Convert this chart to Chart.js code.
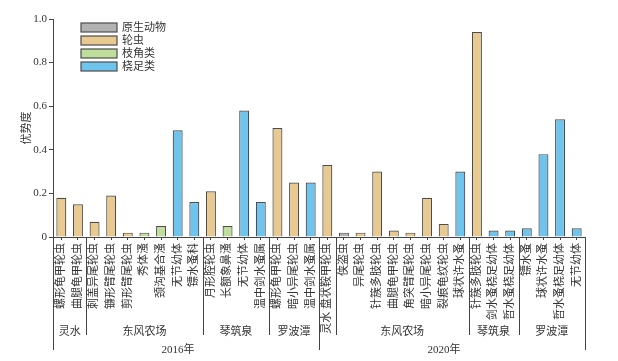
<!DOCTYPE html>
<html>
<head>
<meta charset="utf-8">
<script src="https://cdn.jsdelivr.net/npm/chart.js@4.4.0/dist/chart.umd.min.js"></script>
<style>
  html, body { margin: 0; padding: 0; background: #fff; }
</style>
</head>
<body>
<canvas id="myChart" width="618" height="361"></canvas>
<script>
// species names, one bar each (2016 first, then 2020)
const speciesLabels = [
  "螺形龟甲轮虫", "曲腿龟甲轮虫",
  "刺盖异尾轮虫", "镰形臂尾轮虫", "剪形臂尾轮虫", "秀体溞", "颈沟基合溞", "无节幼体", "镖水蚤科",
  "月形腔轮虫", "长额象鼻溞", "无节幼体", "温中剑水蚤属",
  "螺形龟甲轮虫", "暗小异尾轮虫", "温中剑水蚤属",
  "灵水 盘状鞍甲轮虫",
  "侠盗虫", "异尾轮虫", "针簇多肢轮虫", "曲腿龟甲轮虫", "角突臂尾轮虫", "暗小异尾轮虫", "裂痕龟纹轮虫", "球状许水蚤",
  "针簇多肢轮虫", "剑水蚤桡足幼体", "哲水蚤桡足幼体",
  "镖水蚤", "球状许水蚤", "哲水蚤桡足幼体", "无节幼体",
];

const dominance = [
  0.18, 0.15,
  0.07, 0.19, 0.02, 0.02, 0.05, 0.49, 0.16,
  0.21, 0.05, 0.58, 0.16,
  0.50, 0.25, 0.25,
  0.33,
  0.02, 0.02, 0.30, 0.03, 0.02, 0.18, 0.06, 0.30,
  0.94, 0.03, 0.03,
  0.04, 0.38, 0.54, 0.04,
];

// 0 原生动物, 1 轮虫, 2 枝角类, 3 桡足类
const taxonOfBar = [
  1, 1,
  1, 1, 1, 2, 2, 3, 3,
  1, 2, 3, 3,
  1, 1, 3,
  1,
  0, 1, 1, 1, 1, 1, 1, 3,
  1, 3, 3,
  3, 3, 3, 3,
];

const taxonNames = ["原生动物", "轮虫", "枝角类", "桡足类"];
const taxonColors = ["#b3b3b3", "#e8c98f", "#bfdd9b", "#6ec4ed"];

// site groups: first and last bar index, label (empty = name is in the tick label)
const siteNames = ["灵水", "东风农场", "琴筑泉", "罗波潭", "", "东风农场", "琴筑泉", "罗波潭"];
const siteFirst = [0, 2, 9, 13, 16, 17, 25, 28];
const siteLast = [1, 8, 12, 15, 16, 24, 27, 31];

const yearNames = ["2016年", "2020年"];
const yearFirst = [0, 16];
const yearLast = [15, 31];

const yTicks = [0, 0.2, 0.4, 0.6, 0.8, 1.0];

const lineColor = "#444";
const textColor = "#333";
const serif = "'Liberation Serif', 'Noto Sans CJK SC', serif";

const datasets = taxonNames.map((name, t) => ({
  label: name,
  data: dominance.map((v, i) => (taxonOfBar[i] === t ? v : null)),
  backgroundColor: taxonColors[t],
  borderColor: "#4d4d4d",
  borderWidth: 1.2,
  grouped: false,
  barPercentage: 0.6,
  categoryPercentage: 1.0,
}));

const groupPlugin = {
  id: "groups",
  afterDraw(chart) {
    const { ctx, chartArea, scales } = chart;
    const x = scales.x;
    const base = chartArea.bottom;
    const edge = (i) => (x.getPixelForValue(i - 1) + x.getPixelForValue(i)) / 2;

    ctx.save();
    ctx.strokeStyle = lineColor;
    ctx.lineWidth = 1;

    // long lines: left, between years, right
    [chartArea.left, edge(yearFirst[1]), chartArea.right].forEach((px) => {
      ctx.beginPath();
      ctx.moveTo(Math.round(px) + 0.5, base);
      ctx.lineTo(Math.round(px) + 0.5, base + 113);
      ctx.stroke();
    });

    // short lines between sites
    siteFirst.forEach((f) => {
      if (f === 0 || yearFirst.includes(f)) return;
      const px = Math.round(edge(f)) + 0.5;
      ctx.beginPath();
      ctx.moveTo(px, base);
      ctx.lineTo(px, base + 98);
      ctx.stroke();
    });

    ctx.fillStyle = textColor;
    ctx.textAlign = "center";
    ctx.textBaseline = "middle";
    ctx.font = "11px " + serif;
    siteNames.forEach((name, k) => {
      if (!name) return;
      const c = (x.getPixelForValue(siteFirst[k]) + x.getPixelForValue(siteLast[k])) / 2;
      ctx.fillText(name, c, base + 95);
    });

    yearNames.forEach((name, k) => {
      const c = (x.getPixelForValue(yearFirst[k]) + x.getPixelForValue(yearLast[k])) / 2 - 8;
      ctx.fillText(name, c, base + 113);
    });

    // legend inside the plot, top left
    const lx = chartArea.left + 28;
    let ly = chartArea.top + 4;
    ctx.textAlign = "left";
    taxonNames.forEach((name, t) => {
      ctx.fillStyle = taxonColors[t];
      ctx.fillRect(lx, ly, 36, 9);
      ctx.strokeStyle = "#4d4d4d";
      ctx.lineWidth = 1.2;
      ctx.strokeRect(lx, ly, 36, 9);
      ctx.fillStyle = textColor;
      ctx.fillText(name, lx + 41, ly + 5);
      ly += 13;
    });
    ctx.restore();
  },
};

const ctx = document.getElementById("myChart").getContext("2d");

new Chart(ctx, {
  type: "bar",
  data: {
    labels: speciesLabels,
    datasets: datasets,
  },
  options: {
    responsive: false,
    animation: false,
    devicePixelRatio: 1,
    layout: {
      padding: { top: 19, right: 33, bottom: 0, left: 0 },
    },
    plugins: {
      legend: { display: false },
      tooltip: { enabled: false },
    },
    scales: {
      x: {
        offset: true,
        grid: {
          offset: false,
          drawOnChartArea: false,
          drawTicks: true,
          tickLength: 3,
          color: lineColor,
        },
        border: { color: lineColor, width: 1 },
        ticks: {
          autoSkip: false,
          maxRotation: 90,
          minRotation: 90,
          padding: 3,
          color: textColor,
          font: { size: 11, family: serif },
        },
        afterFit(scale) {
          scale.height = 124;
        },
      },
      y: {
        min: 0,
        max: 1,
        afterBuildTicks(scale) {
          scale.ticks = yTicks.map((v) => ({ value: v }));
        },
        grid: {
          drawOnChartArea: false,
          drawTicks: true,
          tickLength: 4,
          color: lineColor,
        },
        border: { color: lineColor, width: 1 },
        ticks: {
          padding: 2,
          color: textColor,
          font: { size: 11, family: serif },
          callback: (v) => (v === 0 ? "0" : v.toFixed(1)),
        },
        title: {
          display: true,
          text: "优势度",
          color: textColor,
          font: { size: 11, family: serif },
          padding: { top: 21, bottom: 0 },
        },
        afterFit(scale) {
          scale.width = 53;
        },
      },
    },
  },
  plugins: [groupPlugin],
});
</script>
</body>
</html>
